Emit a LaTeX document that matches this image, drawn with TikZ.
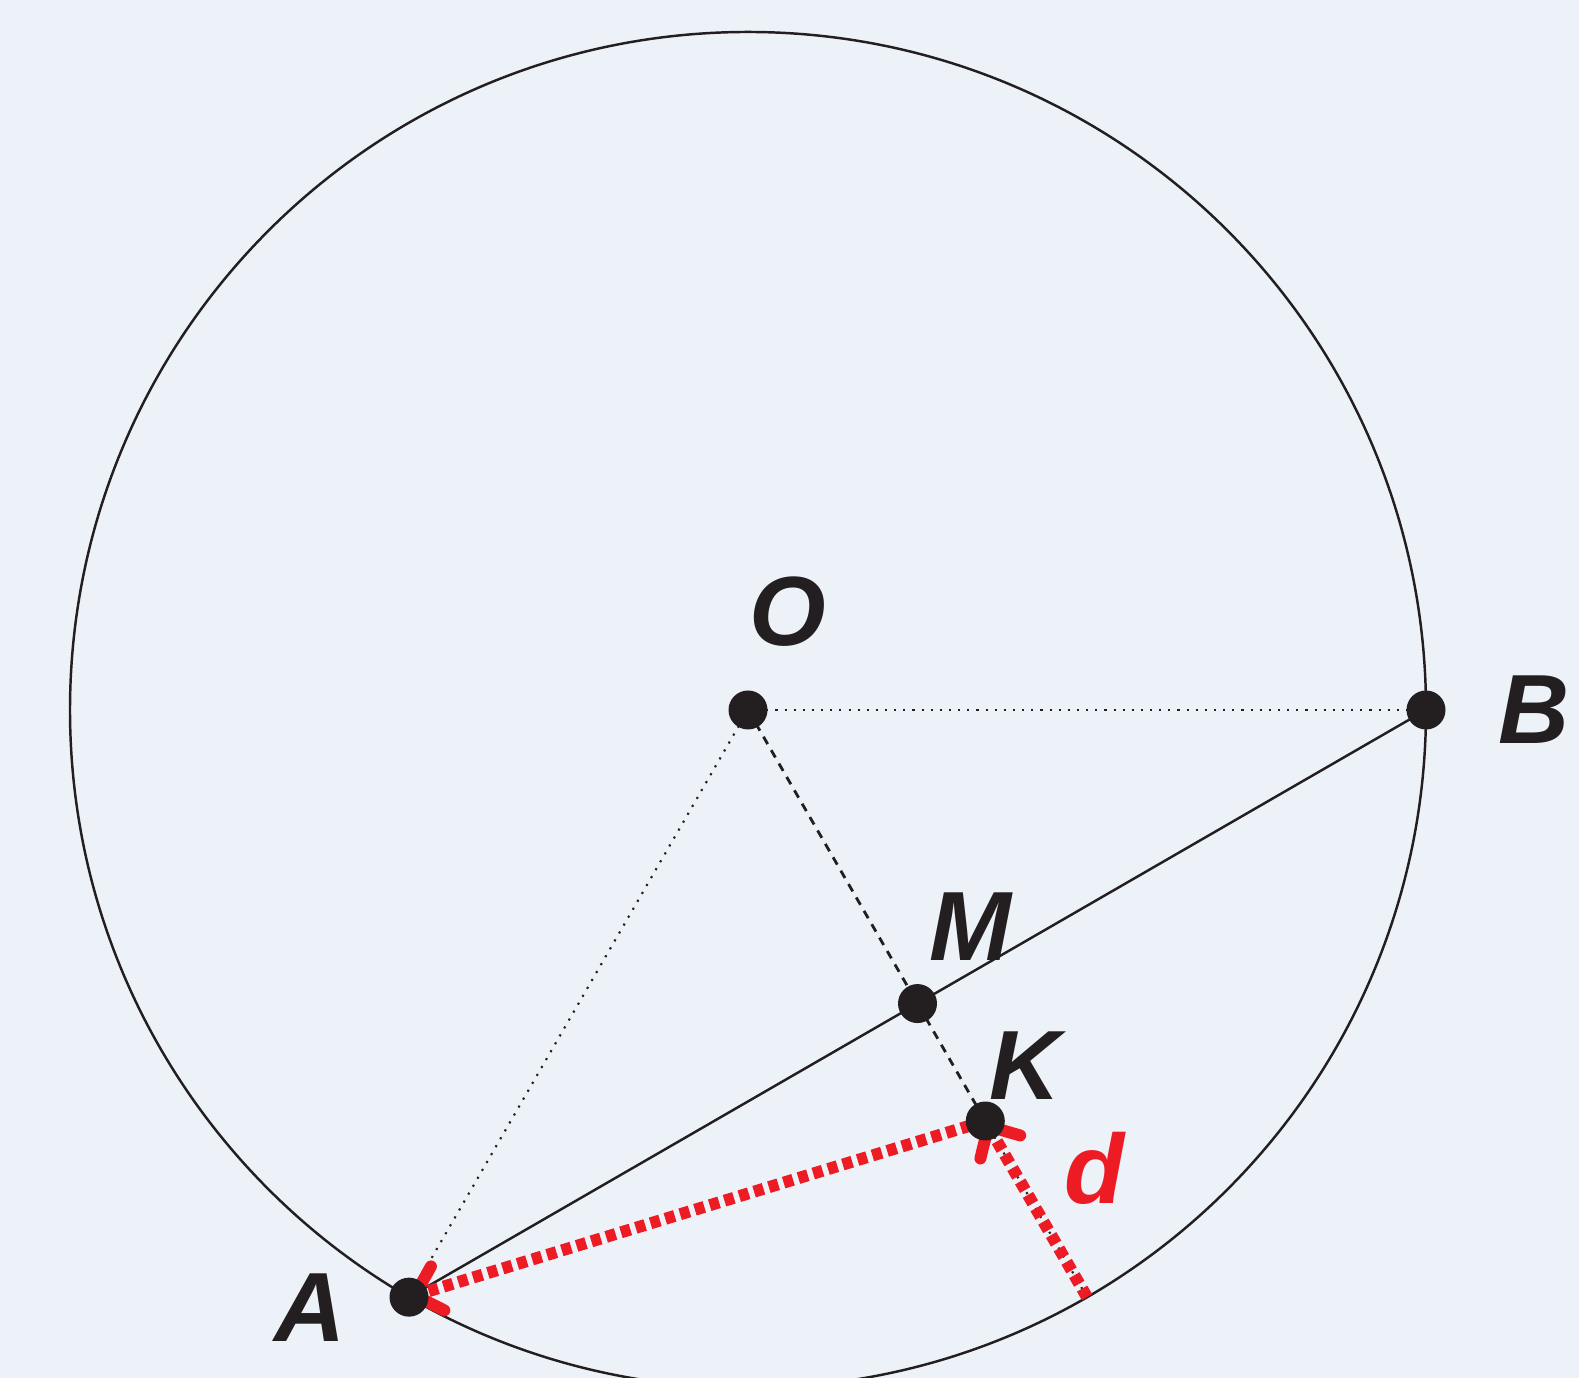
\documentclass[tikz,border=0pt]{standalone}
\usepackage{fontspec}
\setmainfont{Liberation Sans}
\usetikzlibrary{arrows.meta, positioning, calc}
\definecolor{paperBlue}{RGB}{237, 242, 248}
\definecolor{inkBlack}{RGB}{35, 31, 32}
\definecolor{markRed}{RGB}{237, 28, 36}

\begin{document}
\begin{tikzpicture}[
    every node/.style={font=\fontsize{28}{30}\selectfont\bfseries\itshape, text=inkBlack, inner sep=0pt},
    pointdot/.style={circle, fill=inkBlack, minimum size=0.39cm, inner sep=0pt},
    thinline/.style={draw=inkBlack, line width=0.7pt},
    dotline/.style={draw=inkBlack, line width=0.6pt, dotted},
    dashline/.style={draw=inkBlack, line width=0.8pt, dash pattern=on 2.4pt off 2pt},
    redarrow/.style={draw=markRed, line width=3.4pt, dash pattern=on 2.8pt off 1.6pt, -{Straight Barb[length=2.4mm, width=4.6mm, round]}}
]

% Canvas
\fill[paperBlue] (0,0) rectangle (15.79,13.78);
\useasboundingbox (0,0) rectangle (15.79,13.78);
\clip (0,0) rectangle (15.79,13.78);

% Points
\coordinate (O) at (7.48,6.68);
\coordinate (B) at ($(O)+(0:6.78)$);
\coordinate (A) at ($(O)+(240:6.78)$);
\coordinate (M) at ($(A)!0.5!(B)$);
\coordinate (K) at ($(O)+(-60:4.746)$);
\coordinate (C) at ($(O)+(-60:6.78)$);

% Circle and chord
\draw[thinline] (O) circle (6.78);
\draw[thinline] (A) -- (B);

% Radii
\draw[dotline] (O) -- (B);
\draw[dotline] (O) -- (A);
\draw[dashline] (O) -- (K);
\draw[dotline] (K) -- (C);

% Distances
\draw[redarrow] (K) -- (A);
\draw[redarrow] (C) -- (K);

% Dots
\foreach \p in {O, B, A, M, K}
    \node[pointdot] (dot\p) at (\p) {};

% Labels
\node[above=0.63cm of O, xshift=0.4cm] (labO) {O};
\node[right=0.72cm of B] (labB) {B};
\node[left=0.63cm of A, yshift=-0.1cm] (labA) {A};
\node[above=0.42cm of M, xshift=0.53cm] (labM) {M};
\node[above=0.21cm of K, xshift=0.4cm] (labK) {K};
\node[text=markRed, right=0.78cm of K, yshift=-0.47cm] (labd) {d};

\end{tikzpicture}
\end{document}
